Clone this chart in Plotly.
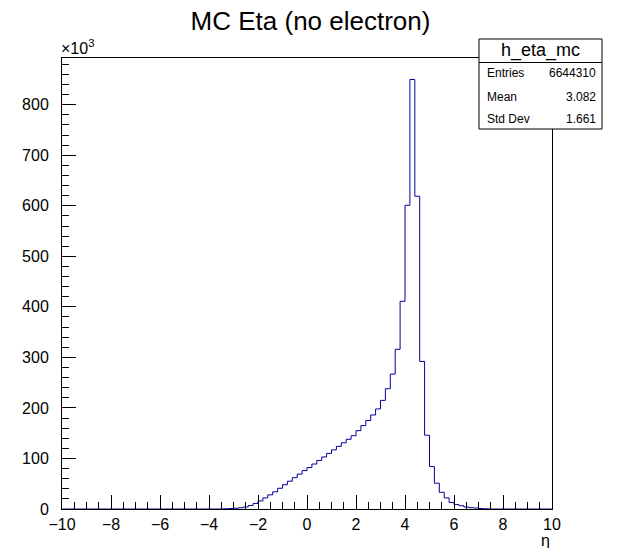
import numpy as np
import plotly.graph_objects as go

# ---- data ----
x_min, x_max = -10.0, 10.0
bin_width = 0.2
first_bin_low = -3.4
# counts (in thousands) for consecutive bins starting at first_bin_low
counts_k = [0.5, 1.0, 1.5, 2.5, 4, 7, 11, 16, 22, 28, 34, 41, 48, 55, 62, 69, 76,
            82, 89, 96, 103, 110, 117, 124, 131, 138, 145,
            155, 165, 175, 186, 198, 215, 238, 267, 316, 411,
            601, 850, 619, 292, 146, 84, 51, 33, 22, 13, 9, 6.5, 4, 2.6, 2, 1, 0.5]
y_ticks = [0, 100, 200, 300, 400, 500, 600, 700, 800]
x_ticks = [-10, -8, -6, -4, -2, 0, 2, 4, 6, 8, 10]
stats_name = "h_eta_mc"
stats_labels = ["Entries", "Mean", "Std Dev"]
stats_values = ["6644310", "3.082", "1.661"]

# ---- build histogram ----
nbins = int(round((x_max - x_min) / bin_width))
edges = x_min + bin_width * np.arange(nbins + 1)
vals = np.zeros(nbins)
start = int(round((first_bin_low - x_min) / bin_width))
vals[start:start + len(counts_k)] = counts_k
ymax = 1.05 * vals.max()

xs = edges
ys = np.append(vals, vals[-1])

fig = go.Figure()
fig.add_trace(go.Scatter(x=xs, y=ys, mode="lines", line=dict(shape="hv", color="#000099", width=1),
                         hoverinfo="skip", showlegend=False))

FONT = "Liberation Sans, Arial, Helvetica, sans-serif"
L, R, T, B = 62, 69, 58, 39
W, H = 621, 548
pw, ph = W - L - R, H - T - B

def px(x):
    return (x - L) / pw

def py(y):
    return (H - B - y) / ph

fig.update_layout(
    width=W, height=H,
    margin=dict(l=L, r=R, t=T, b=B),
    paper_bgcolor="white", plot_bgcolor="white",
    font=dict(family=FONT, color="black", size=16),
    title=dict(text="MC Eta (no electron)", x=0.5, xanchor="center", y=1 - 21 / H, yanchor="middle",
               font=dict(size=26, family=FONT)),
    xaxis=dict(range=[x_min, x_max], tickvals=x_ticks, ticks="inside", ticklen=14, tickcolor="black",
               showgrid=False, zeroline=False, showline=True, linecolor="black", linewidth=1, mirror=True,
               minor=dict(ticks="inside", ticklen=7, dtick=0.5, tickcolor="black", showgrid=False),
               tickfont=dict(size=16), ticklabelstandoff=1),
    yaxis=dict(range=[0, ymax], tickvals=y_ticks, ticks="inside", ticklen=14, tickcolor="black",
               showgrid=False, zeroline=False, showline=True, linecolor="black", linewidth=1, mirror=True,
               minor=dict(ticks="inside", ticklen=7, dtick=20, tickcolor="black", showgrid=False),
               tickfont=dict(size=16), ticklabelstandoff=9),
)

# x10^3 label
fig.add_annotation(text="×10<sup>3</sup>", xref="paper", yref="paper", x=px(59), y=py(47),
                   xanchor="left", yanchor="middle", showarrow=False, font=dict(size=16, family=FONT))
# axis title eta
fig.add_annotation(text="η", xref="paper", yref="paper", x=px(552), y=py(540),
                   xanchor="right", yanchor="middle", showarrow=False, font=dict(size=16, family=FONT))

# stats box
bx0, bx1, by0, by1, bsep = 479, 602, 39, 129, 62.5
fig.add_shape(type="rect", xref="paper", yref="paper", x0=px(bx0), x1=px(bx1), y0=py(by1), y1=py(by0),
              line=dict(color="black", width=1), fillcolor="white", layer="above")
fig.add_shape(type="line", xref="paper", yref="paper", x0=px(bx0), x1=px(bx1), y0=py(bsep), y1=py(bsep),
              line=dict(color="black", width=1), layer="above")
fig.add_annotation(text=stats_name, xref="paper", yref="paper", x=px((bx0 + bx1) / 2), y=py(50.5),
                   xanchor="center", yanchor="middle", showarrow=False, font=dict(size=18, family=FONT))
row_y = [73, 97, 119]
for lab, val, ry in zip(stats_labels, stats_values, row_y):
    fig.add_annotation(text=lab, xref="paper", yref="paper", x=px(485), y=py(ry),
                       xanchor="left", yanchor="middle", showarrow=False, font=dict(size=12, family=FONT))
    fig.add_annotation(text=val, xref="paper", yref="paper", x=px(598), y=py(ry),
                       xanchor="right", yanchor="middle", showarrow=False, font=dict(size=12, family=FONT))

fig.write_html("out.html")
